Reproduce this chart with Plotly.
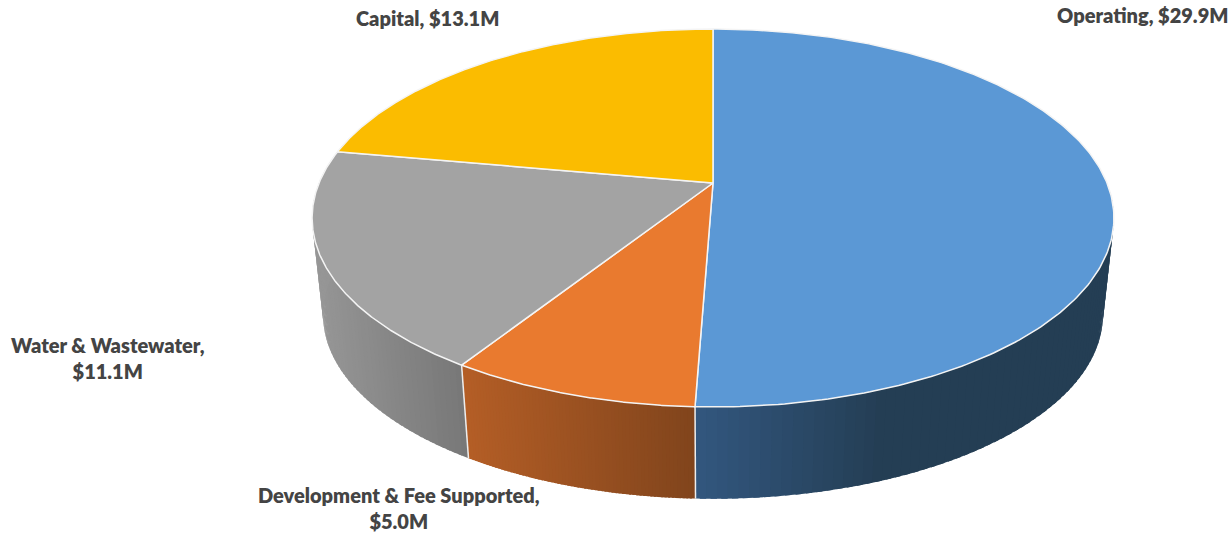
import numpy as np
import plotly.graph_objects as go

categories = ["Operating", "Development & Fee Supported", "Water & Wastewater", "Capital"]
values = [29.9, 5.0, 11.1, 13.1]
label_lines = [["Operating, $29.9M"],
               ["Development & Fee Supported,", "$5.0M"],
               ["Water & Wastewater,", "$11.1M"],
               ["Capital, $13.1M"]]
top_colors = ["#5B98D5", "#E97A2F", "#A3A3A3", "#FBBC00"]

# wall gradients: (left rgb, right rgb, x at left, x at right)
wall_shades = [((50, 86, 126), (36, 62, 84), 697, 880),
               ((180, 94, 38), (128, 68, 28), 462, 696),
               ((150, 150, 150), (118, 118, 118), 313, 468),
               None]

CX, CY = 713.0, 183.0
R, A, K = 394.0, 182.5, 0.185
WALL_SCALE, WALL_DY = 0.9726, 98.0


def project(theta, scale=1.0, dy=0.0):
    u, v = np.sin(theta), np.cos(theta)
    w = 1 + K * v
    return CX + scale * R * u / w, CY + dy - scale * A * v / w


fractions = np.cumsum([0] + values) / sum(values)
angles = 2 * np.pi * fractions
fig = go.Figure()

# side walls
wall_limits = [(np.radians(92), angles[1]), (angles[1], angles[2]), (angles[2], np.radians(283)), None]
for i, shade in enumerate(wall_shades):
    if shade is None:
        continue
    c0, c1, x0, x1 = shade
    t = np.linspace(wall_limits[i][0], wall_limits[i][1], 70)
    for a, b in zip(t[:-1], t[1:]):
        b2 = min(b + (t[1] - t[0]) * 0.6, t[-1])
        xa, ya = project(np.array([a, b2]))
        xb, yb = project(np.array([b2, a]), WALL_SCALE, WALL_DY)
        xm = (xa[0] + xa[1]) / 2
        f = float(np.clip((xm - x0) / (x1 - x0), 0, 1))
        col = tuple(int(round(c0[k] + (c1[k] - c0[k]) * f)) for k in range(3))
        fig.add_trace(go.Scatter(x=list(xa) + list(xb), y=list(ya) + list(yb), mode="lines",
                                 fill="toself", fillcolor=f"rgb{col}", line=dict(width=0),
                                 hoverinfo="skip", showlegend=False))

# seams between the walls
for ang in angles[1:3]:
    xt, yt = project(ang)
    xb, yb = project(ang, WALL_SCALE, WALL_DY)
    fig.add_trace(go.Scatter(x=[xt, xb], y=[yt, yb], mode="lines",
                             line=dict(color="#EDEDED", width=1.5),
                             hoverinfo="skip", showlegend=False))

# top faces
for i, cat in enumerate(categories):
    t = np.linspace(angles[i], angles[i + 1], 240)
    xs, ys = project(t)
    fig.add_trace(go.Scatter(x=[CX] + list(xs) + [CX], y=[CY] + list(ys) + [CY], mode="lines",
                             fill="toself", fillcolor=top_colors[i],
                             line=dict(color="#F4F4F4", width=1.5), name=cat,
                             hoverinfo="name", showlegend=False))

label_pos = [(1142, 15), (399, 508), (107.5, 358), (427.5, 18)]
annotations = [dict(x=x, y=y, xref="x", yref="y", text="<br>".join(lines), showarrow=False,
                    xanchor="center", yanchor="middle", align="center",
                    font=dict(family="Lato", size=20, color="#444444", weight=800))
               for lines, (x, y) in zip(label_lines, label_pos)]

fig.update_layout(width=1232, height=535, margin=dict(l=0, r=0, t=0, b=0),
                  paper_bgcolor="white", plot_bgcolor="white", annotations=annotations,
                  xaxis=dict(range=[0, 1232], visible=False, fixedrange=True),
                  yaxis=dict(range=[535, 0], visible=False, fixedrange=True))
fig.write_html("out.html", config=dict(displayModeBar=False),
               post_script="document.body.style.margin='0';document.documentElement.style.overflow='hidden';")
